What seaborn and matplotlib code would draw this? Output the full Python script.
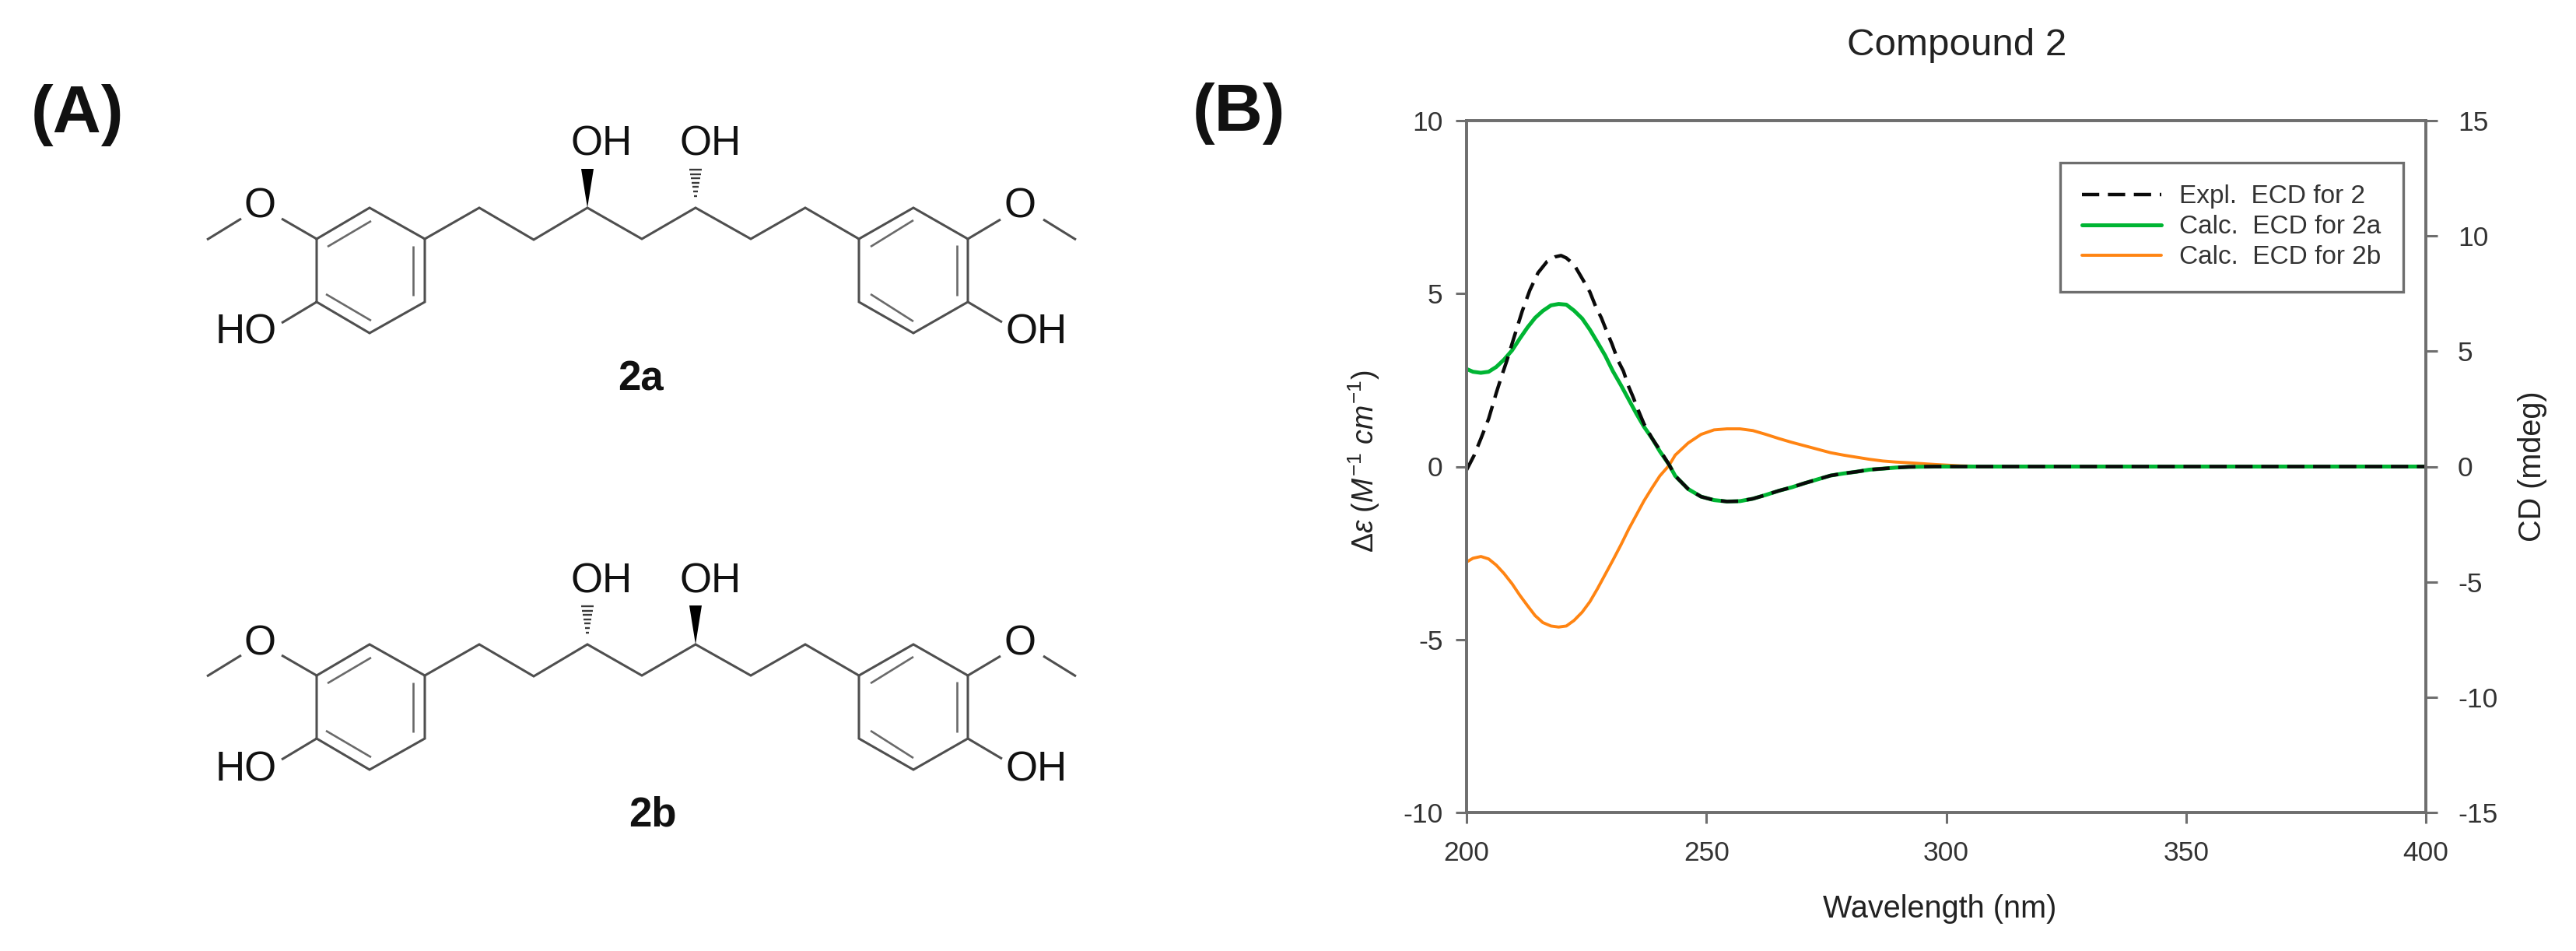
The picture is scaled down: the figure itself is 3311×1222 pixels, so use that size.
import seaborn as sns
import matplotlib.pyplot as plt
import pandas as pd

# ECD curves
tail_nm = [243.5, 246.2, 248.9, 251.6, 254.3, 257, 259.7, 262.4, 265.1, 267.8, 270.5, 273.2, 275.9, 278.6, 281.3,
           284, 286.8, 289.5, 292.2, 297.6, 310, 350, 400]
tail_de = [-0.27, -0.65, -0.87, -0.97, -1.01, -1.0, -0.93, -0.82, -0.70, -0.60, -0.48, -0.37, -0.26, -0.2, -0.15,
           -0.09, -0.06, -0.03, -0.01, 0, 0, 0, 0]

expl_nm = [200, 201.6, 203, 204.6, 206.2, 207.3, 208.4, 210, 211.6, 213.2, 214.9, 216.8, 218.4, 219.7, 220.8, 222.4,
           224.3, 225.7, 227, 228.1, 229.5, 230.3, 231.6, 232.7, 233.8, 234.6, 236, 237, 238.7, 240.3, 242.2] + tail_nm
expl_de = [-0.1, 0.33, 0.81, 1.38, 2.13, 2.61, 3.06, 3.78, 4.49, 5.1, 5.6, 5.93, 6.06, 6.10, 6.03, 5.84,
           5.39, 5.05, 4.6, 4.3, 3.81, 3.55, 3.06, 2.76, 2.31, 2.05, 1.56, 1.23, 0.81, 0.48, 0.06] + tail_de

calc_a_nm = [200, 201.35, 202.97, 204.6, 206.2, 207.8, 209.5, 211.1, 212.7, 214.3, 215.9, 217.6, 219.2, 220.8, 222.4,
             224.1, 225.7, 227.3, 228.9, 230.5, 232.2, 233.8, 235.4, 237, 238.7, 240.3, 242.2] + tail_nm
calc_a_de = [2.82, 2.74, 2.71, 2.74, 2.88, 3.09, 3.36, 3.70, 4.02, 4.30, 4.50, 4.66, 4.70, 4.68, 4.51,
             4.28, 3.96, 3.59, 3.21, 2.76, 2.35, 1.94, 1.53, 1.15, 0.81, 0.44, 0.06] + tail_de

calc_b_nm = [200, 201.35, 203, 204.6, 206.2, 207.8, 209.5, 211.1, 212.7, 214.3, 215.9, 217.6, 219.2, 220.8, 222.4,
             224.1, 225.7, 227.3, 228.9, 230.5, 232.2, 233.8, 235.4, 237, 238.7, 240.3, 242.2, 243.5, 246.2, 248.9,
             251.6, 254.3, 257, 259.7, 262.4, 265.1, 267.8, 270.5, 273.2, 275.9, 278.6, 281.3, 284, 286.8, 289.5,
             292.2, 297.6, 303, 310, 350, 400]
calc_b_de = [-2.76, -2.65, -2.6, -2.67, -2.85, -3.09, -3.39, -3.72, -4.02, -4.31, -4.51, -4.61, -4.64, -4.61, -4.45,
             -4.21, -3.91, -3.53, -3.12, -2.71, -2.26, -1.81, -1.40, -0.99, -0.61, -0.27, 0.03, 0.33, 0.68, 0.93,
             1.06, 1.09, 1.09, 1.04, 0.93, 0.81, 0.70, 0.60, 0.50, 0.40, 0.33, 0.27, 0.21, 0.16, 0.13,
             0.11, 0.06, 0.02, 0, 0, 0]

# skeleton of structure 2a in image pixels, 2b is the same one further down
skeleton = [(266, 308), (310, 281), None, (362, 281), (407, 307), (475, 267), (546, 307), (616, 267), (686, 308),
            (755, 267), (825, 307), (894, 267), (965, 307), (1035, 267), (1104, 307), (1174, 267), (1244, 307),
            (1286, 282), None, (1341, 282), (1383, 308), None,
            (407, 307), (407, 388), (475, 428), (546, 388), (546, 307), None,
            (407, 388), (362, 415), None,
            (1104, 307), (1104, 388), (1174, 428), (1244, 388), (1244, 307), None,
            (1244, 388), (1288, 414)]
inner_bonds = [((421, 317), (477, 284)), ((531, 316), (531, 380)), ((419, 378), (477, 412)),
               ((1119, 317), (1174, 283)), ((1230, 315), (1230, 380)), ((1119, 378), (1174, 413))]
atom_labels = [('O', 334, 266), ('HO', 316, 428), ('OH', 773, 186), ('OH', 913, 186), ('O', 1311, 266), ('OH', 1332, 428)]
shift_2b = 561


def draw_molecule(ax, dy, wedge_x, hash_x, name, name_x):
    xs = [p[0] if p else float('nan') for p in skeleton]
    ys = [p[1] + dy if p else float('nan') for p in skeleton]
    ax.plot(xs, ys, color='#4f4f4f', lw=2.2, solid_joinstyle='miter', solid_capstyle='butt')
    for a, b in inner_bonds:
        ax.plot([a[0], b[0]], [a[1] + dy, b[1] + dy], color='#6a6a6a', lw=1.9, solid_capstyle='butt')
    # solid wedge and hashed wedge on the two stereo centres
    ax.fill([wedge_x, wedge_x - 8, wedge_x + 8], [267 + dy, 217 + dy, 217 + dy], color='black', lw=0)
    for i, half in enumerate([8, 7, 6, 5, 4, 3, 2]):
        ax.plot([hash_x - half, hash_x + half], [218 + i * 5.6 + dy] * 2, color='#3a3a3a', lw=1.7, solid_capstyle='butt')
    for txt, x, y in atom_labels:
        ax.text(x, y + dy, txt, fontsize=38, ha='center', va='center', color='#111111')
    ax.text(name_x, 487 + dy, name, fontsize=38, fontweight='bold', ha='center', va='center', color='#111111')


def plot_figure():
    sns.set_theme(style='white')
    plt.rcParams['font.family'] = ['Liberation Sans', 'DejaVu Sans']
    plt.rcParams['mathtext.fontset'] = 'custom'
    plt.rcParams['mathtext.rm'] = 'Liberation Sans'
    plt.rcParams['mathtext.it'] = 'Liberation Sans:italic'
    plt.rcParams['axes.unicode_minus'] = False

    fig = plt.figure(figsize=(33.11, 12.22), dpi=100)

    # whole-figure layer in pixels for panel A and the panel letters
    bg = fig.add_axes([0, 0, 1, 1])
    bg.set_xlim(0, 3311)
    bg.set_ylim(1222, 0)
    bg.axis('off')
    draw_molecule(bg, 0, 755, 894, '2a', 823)
    draw_molecule(bg, shift_2b, 894, 755, '2b', 839)
    bg.text(100, 148, '(A)', fontsize=62, fontweight='bold', ha='center', va='center', color='#111111')
    bg.text(1592, 146, '(B)', fontsize=62, fontweight='bold', ha='center', va='center', color='#111111')

    axis_grey = '#6e6e6e'
    ax = fig.add_axes([1885 / 3311, 1 - 1044 / 1222, 1233 / 3311, 889 / 1222])
    ax.patch.set_alpha(0)
    df_b = pd.DataFrame({'nm': calc_b_nm, 'de': calc_b_de})
    df_a = pd.DataFrame({'nm': calc_a_nm, 'de': calc_a_de})
    df_e = pd.DataFrame({'nm': expl_nm, 'de': expl_de})
    sns.lineplot(data=df_b, x='nm', y='de', color='#ff8412', lw=2.8, label='Calc.  ECD for 2b', errorbar=None, ax=ax)
    sns.lineplot(data=df_a, x='nm', y='de', color='#00b533', lw=3.6, label='Calc.  ECD for 2a', errorbar=None, ax=ax)
    sns.lineplot(data=df_e, x='nm', y='de', color='#0a0a0a', lw=3.2, linestyle=(0, (5, 2.5)),
                 label='Expl.  ECD for 2', errorbar=None, ax=ax)

    ax.set_xlim(200, 400)
    ax.set_ylim(-10, 10)
    ax.set_xticks([200, 250, 300, 350, 400])
    ax.set_yticks([-10, -5, 0, 5, 10])
    ax.set_xlabel('Wavelength (nm)', fontsize=28.5, color='#222222', va='center')
    ax.xaxis.set_label_coords(0.493, -0.139)
    ax.set_ylabel(r'$\Delta\varepsilon\ (M^{-1}\ cm^{-1})$', fontsize=27, color='#222222', va='center')
    ax.yaxis.set_label_coords(-0.107, 0.508)
    ax.text(0.511, 1.108, 'Compound 2', transform=ax.transAxes, fontsize=35.5, ha='center', va='center', color='#222222')
    ax.tick_params(axis='both', length=10, width=2.2, color=axis_grey, labelsize=25.5, labelcolor='#333333',
                   bottom=True, left=True)
    ax.tick_params(axis='x', pad=16)
    ax.tick_params(axis='y', pad=12)

    cd = ax.twinx()
    cd.set_ylim(-15, 15)
    cd.set_yticks([-15, -10, -5, 0, 5, 10, 15])
    cd.set_ylabel('CD (mdeg)', fontsize=28.5, color='#222222', va='center', rotation=90)
    cd.yaxis.set_label_coords(1.111, 0.5)
    cd.tick_params(axis='y', length=10.5, width=2.2, color=axis_grey, labelsize=25.5, labelcolor='#333333', pad=19, right=True)
    for a in (ax, cd):
        for s in a.spines.values():
            s.set_color(axis_grey)
            s.set_linewidth(2.6)

    handles, labels = ax.get_legend_handles_labels()
    order = [2, 1, 0]
    leg = ax.legend([handles[i] for i in order], [labels[i] for i in order], loc='upper left',
                    bbox_to_anchor=((2648 - 1885) / 1233, (1044 - 209) / 889), borderaxespad=0, fontsize=24,
                    frameon=True, fancybox=False, edgecolor=axis_grey, framealpha=1, borderpad=0.85,
                    handlelength=3.05, handletextpad=0.7, labelspacing=0.24, labelcolor='#333333')
    leg.get_frame().set_linewidth(2.4)
    leg.set_zorder(5)

    fig.savefig('out.png', dpi=100, facecolor='white')


if __name__ == "__main__":
    plot_figure()
